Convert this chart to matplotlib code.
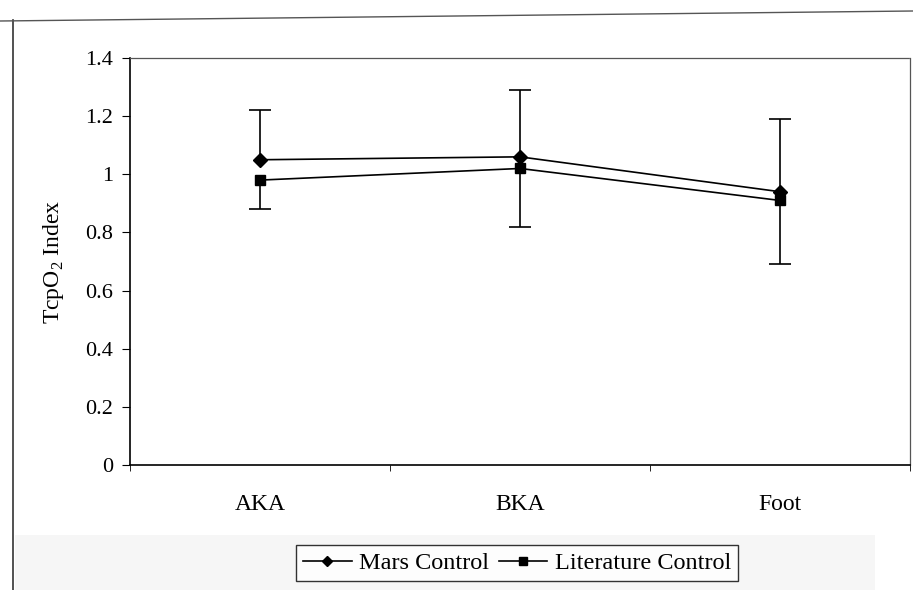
import matplotlib.pyplot as plt
from matplotlib.lines import Line2D
from matplotlib.patches import Rectangle
import numpy as np

plt.rcParams['font.family'] = ['Liberation Serif', 'DejaVu Serif']
plt.rcParams['mathtext.fontset'] = 'custom'
plt.rcParams['mathtext.rm'] = 'Liberation Serif'

sites = ["AKA", "BKA", "Foot"]
mars = [1.05, 1.06, 0.94]
mars_err_up = [0.17, 0.23, 0.25]
literature = [0.98, 1.02, 0.91]
lit_err_down = [0.10, 0.20, 0.22]
yticks = [0, 0.2, 0.4, 0.6, 0.8, 1, 1.2, 1.4]
ytick_labels = ["0", "0.2", "0.4", "0.6", "0.8", "1", "1.2", "1.4"]

fig = plt.figure(figsize=(9.13, 5.90), dpi=100)
ax = fig.add_axes([130 / 913, 125 / 590, 780 / 913, 407 / 590])

x = np.arange(len(sites)) + 0.5
zeros = np.zeros(len(sites))

# Mars control: upper error bars only
_, caps, _ = ax.errorbar(x, mars, yerr=[zeros, mars_err_up], fmt='none',
                         ecolor='black', elinewidth=1.2, capsize=8, capthick=1.2)
caps[0].set_visible(False)
# Literature control: lower error bars only
_, caps, _ = ax.errorbar(x, literature, yerr=[lit_err_down, zeros], fmt='none',
                         ecolor='black', elinewidth=1.2, capsize=8, capthick=1.2)
caps[1].set_visible(False)

ax.plot(x, mars, color='black', lw=1.2, marker='D', ms=7.5, label="Mars Control", zorder=3)
ax.plot(x, literature, color='black', lw=1.2, marker='s', ms=7.5, label="Literature Control", zorder=3)

ax.set_xlim(0, 3)
ax.set_ylim(0, 1.4)
ax.set_yticks(yticks)
ax.set_yticklabels(ytick_labels, fontsize=16)
ax.set_xticks(x)
ax.set_xticklabels(sites, fontsize=17)
ax.set_xticks([0, 1, 2, 3], minor=True)
ax.tick_params(axis='x', which='major', length=0, pad=21)
ax.tick_params(axis='x', which='minor', length=4, direction='out')
ax.tick_params(axis='y', length=6, direction='out', pad=6)
ax.set_ylabel("TcpO$_{\\mathrm{2}}$ Index", fontsize=17, labelpad=14)

for side in ['left', 'bottom']:
    ax.spines[side].set_linewidth(1.2)
for side in ['top', 'right']:
    ax.spines[side].set_color('#555555')
    ax.spines[side].set_linewidth(0.9)
    ax.spines[side].set_linestyle((0, (2, 1)))

# light strip behind the legend and outer chart border
fig.add_artist(Rectangle((15 / 913, 0), 860 / 913, 55 / 590,
                         transform=fig.transFigure, facecolor='#f6f6f6',
                         edgecolor='none', zorder=0))
fig.add_artist(Line2D([13 / 913, 13 / 913], [0, 1 - 20 / 590],
                      transform=fig.transFigure, color='#333333', lw=1.2))
fig.add_artist(Line2D([0, 1], [1 - 21 / 590, 1 - 11 / 590],
                      transform=fig.transFigure, color='#555555', lw=1.0))

leg = fig.legend(loc='center', bbox_to_anchor=(517 / 913, 1 - 563 / 590), ncol=2,
                 fontsize=17.5, frameon=True, fancybox=False, edgecolor='black',
                 handlelength=2.0, handletextpad=0.3, columnspacing=0.4,
                 borderpad=0.3, markerscale=0.7)
leg.get_frame().set_linewidth(1.0)

fig.savefig("out.png", dpi=100)
